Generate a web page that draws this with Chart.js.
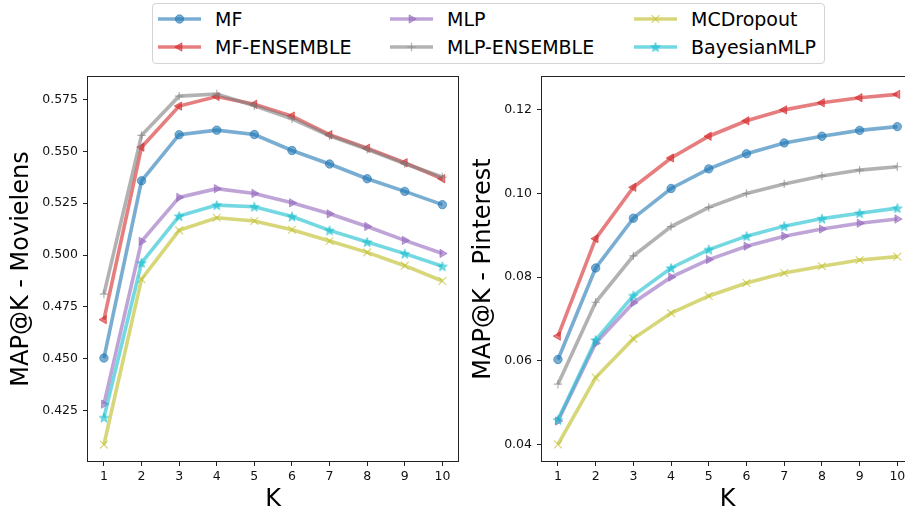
<!DOCTYPE html>
<html>
<head>
<meta charset="utf-8">
<script src="https://cdn.jsdelivr.net/npm/chart.js@4/dist/chart.umd.min.js"></script>
<style>
    html, body { margin: 0; padding: 0; background: #fff; overflow: hidden; }
    body { width: 905px; height: 512px; position: relative; font-family: 'DejaVu Sans', sans-serif; }
    canvas.plot { position: absolute; top: 66px; }
    #legend {
        position: absolute; left: 152px; top: 3px; width: 671px; height: 59px;
        border: 1px solid #d4d4d4; border-radius: 4px; background: #fff;
    }
    .item { position: absolute; height: 24px; }
    .item canvas { position: absolute; left: 0; top: 0; }
    .item span { position: absolute; left: 57px; top: 0; line-height: 24px; font-size: 19px; color: #000; white-space: nowrap; }
</style>
</head>
<body>
<div id="legend"></div>
<canvas id="ml-chart" class="plot" width="466" height="446" style="left:0px"></canvas>
<canvas id="pt-chart" class="plot" width="459" height="446" style="left:462px"></canvas>
<script>
// Valores de K
const kValues = [1, 2, 3, 4, 5, 6, 7, 8, 9, 10];

// Nombres de las series (orden de la leyenda)
const seriesNames = ['MF', 'MF-ENSEMBLE', 'MLP', 'MLP-ENSEMBLE', 'MCDropout', 'BayesianMLP'];

// MAP@K - Movielens
const mfMovielens      = [0.4504, 0.5358, 0.5580, 0.5602, 0.5581, 0.5504, 0.5439, 0.5368, 0.5307, 0.5243];
const mfEnsMovielens   = [0.4689, 0.5520, 0.5718, 0.5764, 0.5727, 0.5670, 0.5580, 0.5515, 0.5445, 0.5368];
const mlpMovielens     = [0.4282, 0.5066, 0.5278, 0.5320, 0.5297, 0.5252, 0.5199, 0.5138, 0.5071, 0.5008];
const mlpEnsMovielens  = [0.4812, 0.5577, 0.5766, 0.5776, 0.5720, 0.5657, 0.5575, 0.5510, 0.5440, 0.5376];
const mcdMovielens     = [0.4087, 0.4884, 0.5119, 0.5180, 0.5164, 0.5122, 0.5068, 0.5013, 0.4949, 0.4875];
const bayesMovielens   = [0.4217, 0.4963, 0.5188, 0.5241, 0.5233, 0.5186, 0.5119, 0.5063, 0.5007, 0.4946];

// MAP@K - Pinterest
const mfPinterest      = [0.0603, 0.0822, 0.0941, 0.1012, 0.1059, 0.1095, 0.1121, 0.1137, 0.1151, 0.1160];
const mfEnsPinterest   = [0.0659, 0.0892, 0.1015, 0.1085, 0.1137, 0.1174, 0.1200, 0.1217, 0.1229, 0.1237];
const mlpPinterest     = [0.0456, 0.0642, 0.0739, 0.0800, 0.0842, 0.0874, 0.0898, 0.0915, 0.0929, 0.0939];
const mlpEnsPinterest  = [0.0544, 0.0740, 0.0851, 0.0921, 0.0967, 0.1000, 0.1023, 0.1042, 0.1056, 0.1064];
const mcdPinterest     = [0.0400, 0.0560, 0.0653, 0.0714, 0.0755, 0.0786, 0.0810, 0.0826, 0.0841, 0.0849];
const bayesPinterest   = [0.0459, 0.0650, 0.0756, 0.0822, 0.0866, 0.0898, 0.0922, 0.0940, 0.0953, 0.0965];

// Ticks del eje Y
const movielensTicks = [0.425, 0.450, 0.475, 0.500, 0.525, 0.550, 0.575];
const pinterestTicks = [0.04, 0.06, 0.08, 0.10, 0.12];

// Estilos (tab10 con alpha 0.6)
const seriesColors = [
    'rgba(31,119,180,0.6)', 'rgba(214,39,40,0.6)', 'rgba(148,103,189,0.6)',
    'rgba(127,127,127,0.6)', 'rgba(188,189,34,0.6)', 'rgba(23,190,207,0.6)'
];

function makeStar(color, r) {
    const c = document.createElement('canvas');
    const size = Math.ceil(r * 2 + 2);
    c.width = size; c.height = size;
    const ctx = c.getContext('2d');
    const cx = size / 2, cy = size / 2 + 0.5;
    ctx.beginPath();
    for (let i = 0; i < 10; i++) {
        const rad = i % 2 === 0 ? r : r * 0.4;
        const a = -Math.PI / 2 + i * Math.PI / 5;
        const px = cx + rad * Math.cos(a), py = cy + rad * Math.sin(a);
        if (i === 0) ctx.moveTo(px, py); else ctx.lineTo(px, py);
    }
    ctx.closePath();
    ctx.fillStyle = color;
    ctx.fill();
    ctx.strokeStyle = color;
    ctx.lineWidth = 1;
    ctx.stroke();
    return c;
}

const markers = [
    { pointStyle: 'circle', radius: 4.2, rotation: 0, borderWidth: 1 },
    { pointStyle: 'triangle', radius: 4.8, rotation: -90, borderWidth: 1 },
    { pointStyle: 'triangle', radius: 4.8, rotation: 90, borderWidth: 1 },
    { pointStyle: 'cross', radius: 4.2, rotation: 0, borderWidth: 1.2 },
    { pointStyle: 'crossRot', radius: 5.5, rotation: 0, borderWidth: 1.2 },
    { pointStyle: makeStar(seriesColors[5], 5), radius: 5, rotation: 0, borderWidth: 1 }
];

const LINE_WIDTH = 3.6;
const FONT = "'DejaVu Sans', sans-serif";

function buildDatasets(seriesValues) {
    return seriesValues.map((values, i) => ({
        label: seriesNames[i],
        data: values.map((v, j) => ({ x: kValues[j], y: v })),
        borderColor: seriesColors[i],
        backgroundColor: seriesColors[i],
        borderWidth: LINE_WIDTH,
        pointStyle: markers[i].pointStyle,
        pointRadius: markers[i].radius,
        pointRotation: markers[i].rotation,
        pointBorderWidth: markers[i].borderWidth,
        pointBackgroundColor: seriesColors[i],
        pointBorderColor: seriesColors[i],
        tension: 0,
        fill: false,
        clip: false,
        order: seriesValues.length - i
    }));
}

// Marco completo (los cuatro lados)
const framePlugin = {
    id: 'frame',
    afterDraw(chart) {
        const { ctx, chartArea } = chart;
        ctx.save();
        ctx.strokeStyle = '#222';
        ctx.lineWidth = 1;
        ctx.strokeRect(Math.round(chartArea.left) + 0.5, Math.round(chartArea.top) + 0.5,
            Math.round(chartArea.right - chartArea.left) - 1, Math.round(chartArea.bottom - chartArea.top) - 1);
        ctx.restore();
    }
};

// Quitar el relleno automático de las escalas para fijar el área del gráfico
function noScalePadding(s) {
    s.paddingTop = 0;
    s.paddingBottom = 0;
    s.paddingLeft = 0;
    s.paddingRight = 0;
}

function createChart(canvasId, datasets, cfg) {
    const ctx = document.getElementById(canvasId).getContext('2d');
    return new Chart(ctx, {
        type: 'line',
        data: { datasets: datasets },
        options: {
            responsive: false,
            animation: false,
            devicePixelRatio: 1,
            layout: { padding: { top: 10, right: 3, left: 0, bottom: 0 } },
            plugins: { legend: { display: false }, tooltip: { enabled: false } },
            scales: {
                x: {
                    type: 'linear',
                    min: 0.55,
                    max: 10.45,
                    afterBuildTicks: s => { s.ticks = kValues.map(v => ({ value: v })); },
                    afterFit: s => { s.height = 50; noScalePadding(s); },
                    grid: { drawOnChartArea: false, drawTicks: true, tickLength: 4, color: '#222' },
                    border: { display: false },
                    ticks: { color: '#111', font: { family: FONT, size: 12.5 }, padding: 3, maxRotation: 0, autoSkip: false },
                    title: { display: true, text: 'K', color: '#000', font: { family: FONT, size: 24, lineHeight: 1 }, padding: { top: 0, bottom: 0 } }
                },
                y: {
                    type: 'linear',
                    min: cfg.yMin,
                    max: cfg.yMax,
                    afterBuildTicks: s => { s.ticks = cfg.ticks.map(v => ({ value: v })); },
                    afterFit: s => { s.width = cfg.yWidth; noScalePadding(s); },
                    grid: { drawOnChartArea: false, drawTicks: true, tickLength: 4, color: '#222' },
                    border: { display: false },
                    ticks: {
                        color: '#111', font: { family: FONT, size: 12.5 }, padding: 5, autoSkip: false,
                        callback: v => v.toFixed(cfg.decimals)
                    },
                    title: { display: true, text: cfg.title, color: '#000', font: { family: FONT, size: 24, lineHeight: 1 }, padding: { top: 10, bottom: 0 } }
                }
            }
        },
        plugins: [framePlugin]
    });
}

createChart('ml-chart', buildDatasets([mfMovielens, mfEnsMovielens, mlpMovielens, mlpEnsMovielens, mcdMovielens, bayesMovielens]), {
    yMin: 0.4003, yMax: 0.5863, ticks: movielensTicks, decimals: 3, yWidth: 87, title: 'MAP@K - Movielens'
});

createChart('pt-chart', buildDatasets([mfPinterest, mfEnsPinterest, mlpPinterest, mlpEnsPinterest, mcdPinterest, bayesPinterest]), {
    yMin: 0.0358, yMax: 0.1281, ticks: pinterestTicks, decimals: 2, yWidth: 79, title: 'MAP@K - Pinterest'
});

// Leyenda compartida (HTML)
function buildLegend() {
    const legend = document.getElementById('legend');
    const colX = [5, 237, 481];
    const rowY = [3, 31];
    seriesNames.forEach((name, i) => {
        const item = document.createElement('div');
        item.className = 'item';
        item.style.left = colX[Math.floor(i / 2)] + 'px';
        item.style.top = rowY[i % 2] + 'px';
        const c = document.createElement('canvas');
        c.width = 48; c.height = 24;
        const ctx = c.getContext('2d');
        ctx.strokeStyle = seriesColors[i];
        ctx.lineWidth = LINE_WIDTH;
        ctx.beginPath();
        ctx.moveTo(0, 12);
        ctx.lineTo(43, 12);
        ctx.stroke();
        if (Chart.helpers && Chart.helpers.drawPoint) {
            ctx.fillStyle = seriesColors[i];
            ctx.strokeStyle = seriesColors[i];
            ctx.lineWidth = markers[i].borderWidth;
            Chart.helpers.drawPoint(ctx, {
                pointStyle: markers[i].pointStyle,
                radius: markers[i].radius,
                rotation: markers[i].rotation,
                borderWidth: markers[i].borderWidth
            }, 21.5, 12);
        }
        const label = document.createElement('span');
        label.textContent = name;
        item.appendChild(c);
        item.appendChild(label);
        legend.appendChild(item);
    });
}

buildLegend();
</script>
</body>
</html>
